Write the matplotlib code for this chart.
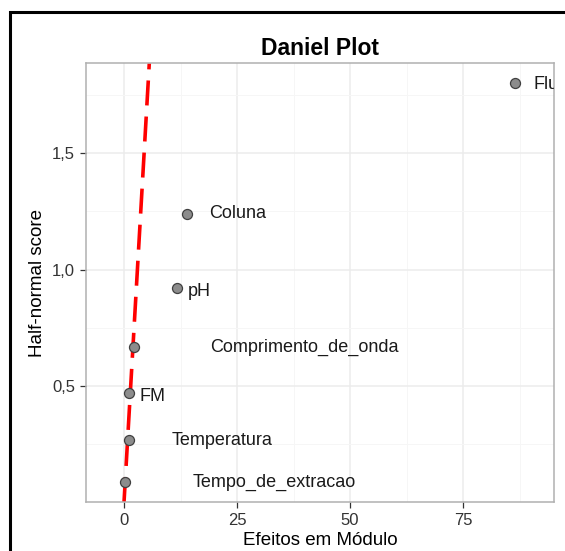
import matplotlib
matplotlib.use("Agg")
import matplotlib.pyplot as plt
from matplotlib.patches import Rectangle
from matplotlib.ticker import FixedLocator, FuncFormatter

plt.rcParams['font.family'] = ['Liberation Sans', 'DejaVu Sans']
plt.rcParams['lines.scale_dashes'] = False

# efeitos (modulo) e escores half-normal
fatores = ["Tempo_de_extracao", "Temperatura", "FM", "Comprimento_de_onda",
           "pH", "Coluna", "Flu"]
efeitos = [0.2, 1.2, 1.1, 2.3, 11.8, 14.0, 86.5]
escores = [0.09, 0.27, 0.47, 0.67, 0.92, 1.24, 1.80]

# reta de referencia pela origem
inclinacao = 0.337

# deslocamento dos rotulos (pixels)
rot_dx = [68, 42, 11, 76, 10, 22, 18]
rot_dy = [-1, -1, -3, -1, -3, 0, -1]

fig = plt.figure(figsize=(5.65, 5.51), dpi=100)
ax = fig.add_axes([86 / 565, 49 / 551, 468 / 565, 438.7 / 551])

ax.set_xlim(-8.4, 95.1)
ax.set_ylim(0.003, 1.886)

ax.xaxis.set_major_locator(FixedLocator([0, 25, 50, 75]))
ax.xaxis.set_minor_locator(FixedLocator([12.5, 37.5, 62.5, 87.5]))
ax.yaxis.set_major_locator(FixedLocator([0.5, 1.0, 1.5]))
ax.yaxis.set_minor_locator(FixedLocator([0.25, 0.75, 1.25, 1.75]))
ax.yaxis.set_major_formatter(FuncFormatter(lambda v, p: f"{v:.1f}".replace(".", ",")))

ax.grid(True, which="major", color="#ececec", lw=1.1)
ax.grid(True, which="minor", color="#f6f6f6", lw=0.7)
ax.set_axisbelow(True)
ax.tick_params(which="minor", length=0)
ax.tick_params(which="major", length=4, width=0.9, color="#333333",
               labelsize=12, labelcolor="#333333", pad=4)
for s in ax.spines.values():
    s.set_color("#b0b0b0")
    s.set_linewidth(1.1)

ax.axline((0, 0), slope=inclinacao, color="red", lw=2.6, dashes=(18, 8), zorder=2)

ax.scatter(efeitos, escores, s=52, c="#8c8c8c", edgecolors="#404040",
           linewidths=0.9, zorder=3)

for nome, x, y, dx, dy in zip(fatores, efeitos, escores, rot_dx, rot_dy):
    ax.annotate(nome, (x, y), xytext=(dx, dy), textcoords="offset pixels",
                ha="left", va="center", fontsize=13, color="#1a1a1a",
                clip_on=True)

ax.set_title("Daniel Plot", fontsize=16.5, fontweight="bold", pad=6)
ax.set_xlabel("Efeitos em Módulo", fontsize=13.5, labelpad=3)
ax.set_ylabel("Half-normal score", fontsize=13.5, labelpad=4)

# moldura preta (so aparecem os lados de cima e da esquerda)
fig.add_artist(Rectangle((9.5 / 565, -0.2), 1.2, 1.2 - 11.5 / 551,
                         transform=fig.transFigure, fill=False,
                         edgecolor="black", lw=2.2, clip_on=False))

fig.savefig("out.png", dpi=100)
